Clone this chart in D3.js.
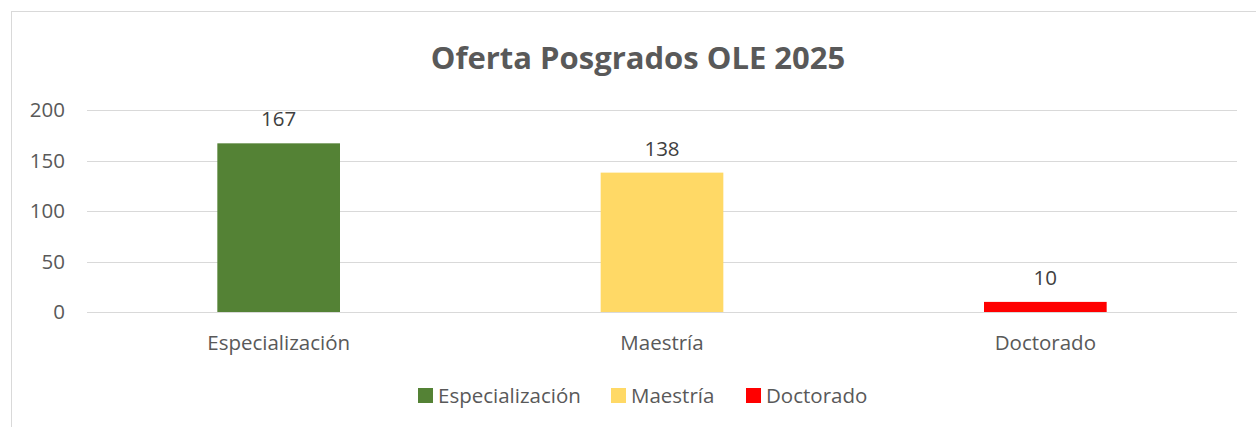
<!DOCTYPE html>
<html>
<head>
<meta charset="utf-8">
<script src="https://cdn.jsdelivr.net/npm/d3@7"></script>
<style>
  body { margin: 0; background: #fff; }
  svg text { font-family: "Open Sans", sans-serif; }
</style>
</head>
<body>
<div id="chart"></div>
<script>
let categories = ['Especialización', 'Maestría', 'Doctorado'];
let values = [167, 138, 10];
let colors = ['#548235', '#FFD966', '#FF0000'];
let yTicks = [0, 50, 100, 150, 200];
let title = 'Oferta Posgrados OLE 2025';

let width = 1256, height = 427;
let margin = {left: 87, right: 19, top: 110, bottom: 115};

let svg = d3.select('#chart').append('svg')
    .attr('width', width)
    .attr('height', height);

// chart frame
svg.append('rect')
    .attr('x', 11.5).attr('y', 11.5)
    .attr('width', width).attr('height', height)
    .attr('fill', 'none')
    .attr('stroke', '#d9d9d9');

svg.append('text')
    .attr('x', 638).attr('y', 69)
    .attr('text-anchor', 'middle')
    .attr('font-size', 31)
    .attr('font-weight', 'bold')
    .attr('fill', '#595959')
    .text(title);

let x = d3.scaleBand().domain(categories)
    .range([margin.left, width - margin.right])
    .paddingInner(0.68).paddingOuter(0.34);
let y = d3.scaleLinear().domain([0, 200]).range([height - margin.bottom, margin.top]);

// gridlines
svg.append('g').selectAll('line')
    .data(yTicks)
    .enter().append('line')
    .attr('x1', margin.left).attr('x2', width - margin.right)
    .attr('y1', d => Math.round(y(d)) + 0.5).attr('y2', d => Math.round(y(d)) + 0.5)
    .attr('stroke', '#d9d9d9').attr('stroke-width', 1.2);

// y labels
svg.append('g').selectAll('text')
    .data(yTicks)
    .enter().append('text')
    .attr('x', 65).attr('y', d => y(d) + 7)
    .attr('text-anchor', 'end')
    .attr('font-size', 20.5)
    .attr('fill', '#595959')
    .text(d => d);

// bars
svg.append('g').selectAll('rect')
    .data(values)
    .enter().append('rect')
    .attr('x', (d, i) => x(categories[i]))
    .attr('y', d => y(d))
    .attr('width', x.bandwidth())
    .attr('height', d => y(0) - y(d))
    .attr('fill', (d, i) => colors[i]);

// data labels
svg.append('g').selectAll('text')
    .data(values)
    .enter().append('text')
    .attr('x', (d, i) => x(categories[i]) + x.bandwidth() / 2)
    .attr('y', d => y(d) - 17)
    .attr('text-anchor', 'middle')
    .attr('font-size', 20.5)
    .attr('fill', '#404040')
    .text(d => d);

// category labels
svg.append('g').selectAll('text')
    .data(categories)
    .enter().append('text')
    .attr('x', d => x(d) + x.bandwidth() / 2)
    .attr('y', 350)
    .attr('text-anchor', 'middle')
    .attr('font-size', 20.5)
    .attr('fill', '#595959')
    .text(d => d);

// legend
let legendX = [418, 611, 746];
let legend = svg.append('g').selectAll('g')
    .data(categories)
    .enter().append('g')
    .attr('transform', (d, i) => 'translate(' + legendX[i] + ',388)');
legend.append('rect')
    .attr('width', 15).attr('height', 15)
    .attr('fill', (d, i) => colors[i]);
legend.append('text')
    .attr('x', 20).attr('y', 15)
    .attr('font-size', 20.5)
    .attr('fill', '#595959')
    .text(d => d);
</script>
</body>
</html>
